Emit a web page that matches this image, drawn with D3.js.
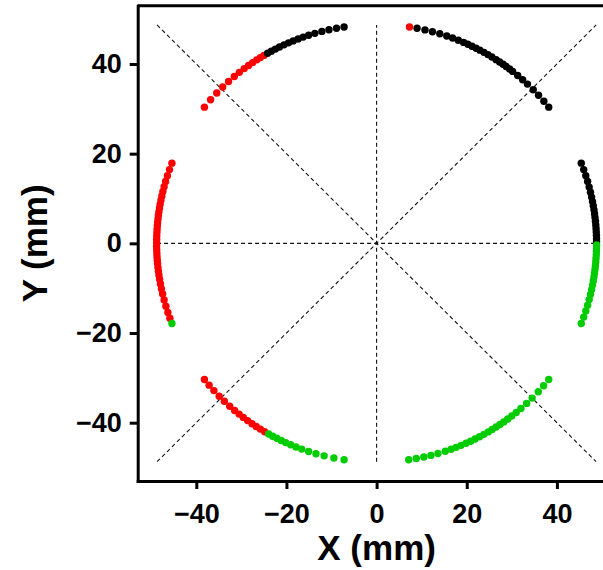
<!DOCTYPE html>
<html>
<head>
<meta charset="utf-8">
<script src="https://cdn.jsdelivr.net/npm/d3@7"></script>
<style>
  body { margin: 0; background: #fff; }
  svg text { font-family: "Liberation Sans", Arial, sans-serif; font-weight: bold; fill: #000; }
</style>
</head>
<body>
<div id="container"></div>
<script>
const width = 603;
const height = 570;

// radius of the measured circle (mm)
const radius = 48.8;

const redAngles = [
  81.4,
  120.8, 121.9, 123.0, 124.3, 125.6, 127.0, 128.6, 130.3, 132.3, 134.4, 136.6, 139.0, 141.5,
  158.5, 160.3, 162.0, 163.6, 165.0, 166.3, 167.5, 168.6, 169.7, 170.7, 171.7, 172.7, 173.6,
  174.5, 175.4, 176.3, 177.2, 178.1, 179.0, 179.9, 180.8, 181.7, 182.6, 183.5, 184.4, 185.3,
  186.3, 187.3, 188.4, 189.5, 190.7, 192.0, 193.4, 195.0, 196.7, 198.4, 200.0,
  218.5, 220.4, 222.3, 224.3, 226.2, 228.1, 229.8, 231.3, 232.7, 234.1, 235.5, 236.8, 238.1, 239.4
];
const blackAngles = [
  21.5, 19.7, 18.0, 16.4, 14.9, 13.5, 12.2, 11.0, 9.9, 8.8, 7.8, 6.8, 5.8, 4.8, 3.9, 3.0, 2.1, 1.2, 0.4,
  79.4, 77.3, 75.3, 73.3, 71.4, 69.8, 68.2, 66.7, 65.5, 64.3, 63.1, 62.0, 60.8, 59.6, 58.4, 57.1,
  56.0, 54.9, 53.9, 52.8, 51.8, 50.1, 48.4, 46.7, 44.6, 42.6, 40.5, 38.5,
  98.5, 100.5, 102.5, 104.4, 106.3, 108.0, 109.5, 110.9, 112.3, 113.6, 114.9, 116.2, 117.4, 118.6, 119.7
];
const greenAngles = [
  -0.4, -1.2, -2.1, -3.0, -3.9, -4.8, -5.8, -6.8, -7.8, -8.8, -9.9, -11.0, -12.2, -13.5, -14.9,
  -16.4, -18.0, -19.7, -21.5,
  201.5,
  240.6, 241.8, 243.0, 244.3, 245.6, 247.0, 248.5, 250.1, 252.0, 254.0, 256.2, 258.8, 261.5,
  278.4, 280.4, 282.4, 284.3, 286.2, 288.2, 289.8, 291.2, 292.6, 294.0, 295.3, 296.6, 297.9,
  299.2, 300.5, 301.7, 302.9, 304.1, 305.3, 306.6, 307.9, 309.4, 311.0, 313.0, 315.0, 317.3,
  319.4, 321.5
];

// dashed guide lines through the centre: [x1, y1, x2, y2] in mm
const guideLines = [
  [-48.7, 0, 48.7, 0],
  [0, -48.7, 0, 48.7],
  [-48.7, 48.7, 48.7, -48.7],
  [-48.7, -48.7, 48.7, 48.7]
];

const xTicks = [-40, -20, 0, 20, 40];
const yTicks = [-40, -20, 0, 20, 40];
const xDomain = [-53, 53];
const yDomain = [-53, 53];

const groups = [
  { colour: "#ff0000", angles: redAngles },
  { colour: "#000000", angles: blackAngles },
  { colour: "#00cc00", angles: greenAngles }
];

const svg = d3
  .select("#container")
  .append("svg")
  .attr("width", width)
  .attr("height", height);

const xScale = d3.scaleLinear().domain(xDomain).range([137.7, 615.5]);
const yScale = d3.scaleLinear().domain(yDomain).range([481, 5.7]);

// guide lines
svg
  .selectAll(".guide")
  .data(guideLines)
  .enter()
  .append("line")
  .attr("class", "guide")
  .attr("x1", (d) => xScale(d[0]))
  .attr("y1", (d) => yScale(d[1]))
  .attr("x2", (d) => xScale(d[2]))
  .attr("y2", (d) => yScale(d[3]))
  .style("stroke", "#111")
  .style("stroke-width", 1.1)
  .style("stroke-dasharray", "4,3");

// points
const points = [];
groups.forEach((g) => {
  g.angles.forEach((a) => {
    const t = (a * Math.PI) / 180;
    points.push({ x: radius * Math.cos(t), y: radius * Math.sin(t), colour: g.colour });
  });
});

svg
  .selectAll(".pt")
  .data(points)
  .enter()
  .append("circle")
  .attr("class", "pt")
  .attr("cx", (d) => xScale(d.x))
  .attr("cy", (d) => yScale(d.y))
  .attr("r", 3.7)
  .style("fill", (d) => d.colour);

// frame (top and right)
svg
  .append("line")
  .attr("x1", xScale(xDomain[0]))
  .attr("x2", xScale(xDomain[1]))
  .attr("y1", yScale(yDomain[1]))
  .attr("y2", yScale(yDomain[1]))
  .style("stroke", "#000")
  .style("stroke-width", 3);
svg
  .append("line")
  .attr("x1", xScale(xDomain[1]))
  .attr("x2", xScale(xDomain[1]))
  .attr("y1", yScale(yDomain[0]))
  .attr("y2", yScale(yDomain[1]))
  .style("stroke", "#000")
  .style("stroke-width", 3);

// axes
const xAxis = svg
  .append("g")
  .attr("transform", `translate(0, ${yScale(yDomain[0])})`)
  .call(d3.axisBottom(xScale).tickValues(xTicks).tickSize(8).tickSizeOuter(0).tickPadding(15));

const yAxis = svg
  .append("g")
  .attr("transform", `translate(${xScale(xDomain[0])}, 0)`)
  .call(d3.axisLeft(yScale).tickValues(yTicks).tickSize(8).tickSizeOuter(0).tickPadding(8));

[xAxis, yAxis].forEach((ax) => {
  ax.attr("font-family", null);
  ax.select(".domain").style("stroke-width", 3).style("stroke-linecap", "square");
  ax.selectAll(".tick line").style("stroke-width", 3);
  ax.selectAll(".tick text").style("font-size", "27px");
});

// axis titles
svg
  .append("text")
  .attr("x", (xScale(xDomain[0]) + xScale(xDomain[1])) / 2)
  .attr("y", 560)
  .attr("text-anchor", "middle")
  .style("font-size", "35px")
  .text("X (mm)");

svg
  .append("text")
  .attr("transform", `translate(47, ${yScale(0)}) rotate(-90)`)
  .attr("text-anchor", "middle")
  .style("font-size", "35px")
  .text("Y (mm)");
</script>
</body>
</html>
